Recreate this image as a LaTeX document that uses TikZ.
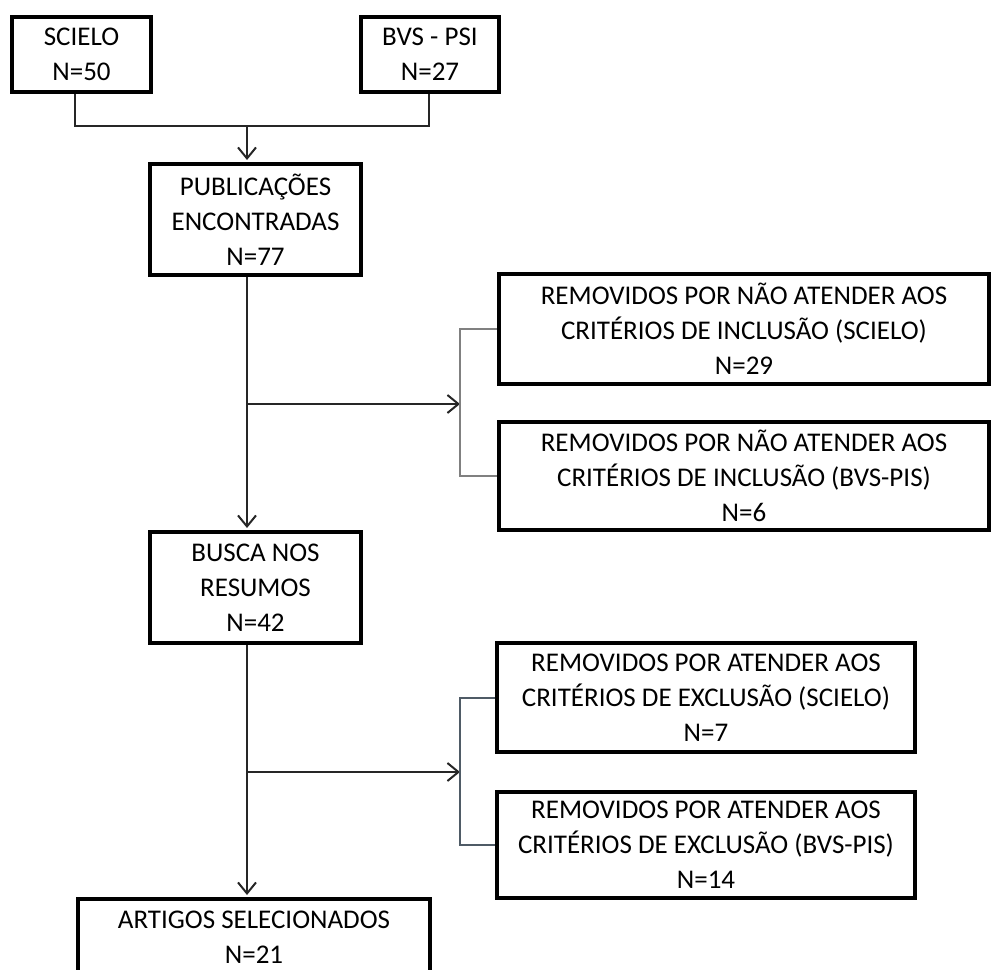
\documentclass[tikz,border=0pt]{standalone}
\usepackage{fontspec}
\setmainfont{Carlito}
\usetikzlibrary{arrows.meta}
\definecolor{brkone}{HTML}{808080}
\definecolor{brktwo}{HTML}{4F5B66}
\begin{document}
\begin{tikzpicture}[x=1pt,y=-1pt,
  box/.style={draw=black, line width=4pt, align=center, inner sep=0pt,
    font=\fontsize{27}{35}\selectfont},
  conn/.style={draw=black!85, line width=2pt},
  arr/.style={conn, -{Straight Barb[length=11pt,width=18pt,line width=2pt]}},
  brk/.style={draw=brkone, line width=2pt},
  brkb/.style={draw=brktwo, line width=2pt}]
\useasboundingbox (0,0) rectangle (992,969);
\clip (0,0) rectangle (992,969);
% nodes
\node[box, minimum width=139pt, minimum height=75pt] (scielo) at (81.5,54.5) {SCIELO\\N=50};
\node[box, minimum width=138pt, minimum height=75pt] (bvs) at (430,54.5) {BVS - PSI\\N=27};
\node[box, minimum width=211pt, minimum height=111pt] (pub) at (255.5,219.5) {PUBLICAÇÕES\\ENCONTRADAS\\N=77};
\node[box, minimum width=211pt, minimum height=111pt] (busca) at (255.5,587.5) {BUSCA NOS\\RESUMOS\\N=42};
\node[box, minimum width=352pt, minimum height=76pt] (art) at (254,937) {ARTIGOS SELECIONADOS\\N=21};
\node[box, minimum width=490pt, minimum height=110pt] (r1) at (744,329) {REMOVIDOS POR NÃO ATENDER AOS\\CRITÉRIOS DE INCLUSÃO (SCIELO)\\N=29};
\node[box, minimum width=490pt, minimum height=108pt] (r2) at (744,476) {REMOVIDOS POR NÃO ATENDER AOS\\CRITÉRIOS DE INCLUSÃO (BVS-PIS)\\N=6};
\node[box, minimum width=418pt, minimum height=109pt] (r3) at (706,697.5) {REMOVIDOS POR ATENDER AOS\\CRITÉRIOS DE EXCLUSÃO (SCIELO)\\N=7};
\node[box, minimum width=418pt, minimum height=106pt] (r4) at (706,845) {REMOVIDOS POR ATENDER AOS\\CRITÉRIOS DE EXCLUSÃO (BVS-PIS)\\N=14};
% helper coordinates
\coordinate (cs) at (75,0);
\coordinate (cb) at (429,0);
\coordinate (jn) at (247,126);
\coordinate (spine) at (247,0);
\coordinate (k1) at (460,404);
\coordinate (k2) at (460,772);
% top merge
\draw[conn] (scielo.south -| cs) |- (jn) -| (bvs.south -| cb);
\draw[arr, shorten >=2pt] (jn) -- (pub.north -| jn);
% spine
\draw[arr, shorten >=2pt] (pub.south -| spine) -- (busca.north -| spine);
\draw[arr, shorten >=2pt] (busca.south -| spine) -- (art.north -| spine);
% branches
\draw[arr] (spine |- k1) -- (k1);
\draw[brk] (r1.west) -| (k1) |- (r2.west);
\draw[arr] (spine |- k2) -- (k2);
\draw[brkb] (r3.west) -| (k2) |- (r4.west);
\end{tikzpicture}
\end{document}
